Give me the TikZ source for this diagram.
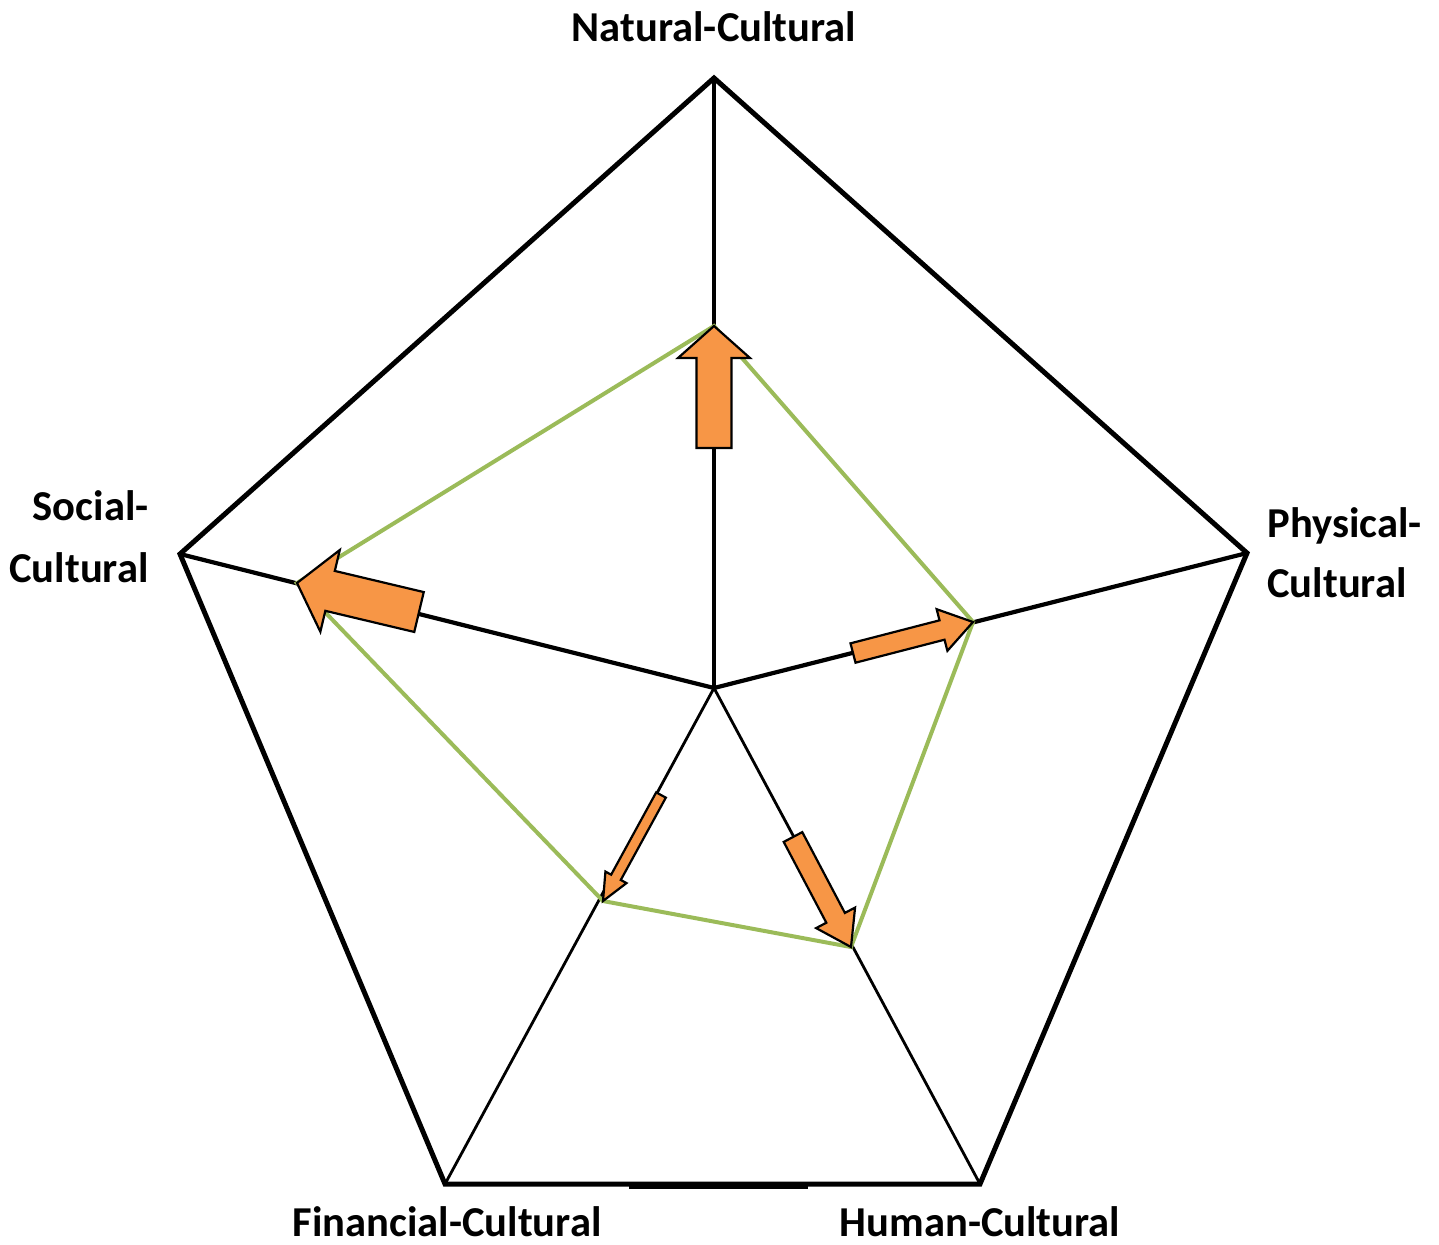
\documentclass[tikz,border=0pt]{standalone}
\usepackage{fontspec}
\setmainfont{Carlito}
\usetikzlibrary{calc}
\definecolor{capfill}{HTML}{F79646}
\definecolor{capline}{HTML}{9BBB59}
\tikzset{
  frame/.style={draw=black, line width=2.5pt, line join=miter},
  spoke/.style={draw=black, line width=2.1pt},
  thinspoke/.style={draw=black, line width=1.4pt},
  profile/.style={draw=capline, line width=2pt, line join=miter},
  fatarrowstyle/.style={fill=capfill, draw=black, line width=1.1pt, line join=miter},
  axislabel/.style={font=\bfseries\fontsize{21.3}{25}\selectfont, inner sep=0pt}
}
% block arrow from #1 to tip #2: shaft half width #3, head half width #4, head length #5
\newcommand\fatarrow[5]{%
  \coordinate (hb) at ($(#2)!#5!(#1)$);
  \filldraw[fatarrowstyle] ($(#1)!#3!90:(#2)$) -- ($(hb)!#3!90:(#2)$) -- ($(hb)!#4!90:(#2)$)
    -- (#2) -- ($(hb)!#4!-90:(#2)$) -- ($(hb)!#3!-90:(#2)$) -- ($(#1)!#3!-90:(#2)$) -- cycle;}
\begin{document}
\begin{tikzpicture}[x=0.5pt,y=-0.5pt]
\useasboundingbox (0,0) rectangle (1439,1244);
% centre and outer pentagon
\coordinate (O) at (714,688);
\coordinate (T) at (714,78);
\coordinate (R) at (1247,553);
\coordinate (BR) at (980,1184);
\coordinate (BL) at (445,1184);
\coordinate (L) at (180,554);
% profile points
\coordinate (pT) at (714,326);
\coordinate (pR) at (973,622);
\coordinate (pBR) at (851,947);
\coordinate (pBL) at (603,901);
\coordinate (pL) at (297,583);
% spokes
\path[spoke] (O) -- (T);
\path[spoke] (O) -- (R);
\path[spoke] (O) -- (L);
\path[thinspoke] (O) -- (BR);
\path[thinspoke] (O) -- (BL);
% outer frame
\path[frame] (T) -- (R) -- (BR) -- (BL) -- (L) -- cycle;
\fill[black] (629,1182) rectangle (808,1189);
% profile polygon
\path[profile] (pT) -- (pR) -- (pBR) -- (pBL) -- (pL) -- cycle;
% arrow tails
\coordinate (aT) at (714,448);
\coordinate (aL) at (419,612);
\coordinate (aR) at (853,653);
\coordinate (aBR) at (793,837);
\coordinate (aBL) at (661,795);
\fatarrow{aT}{pT}{8.75pt}{18pt}{16pt}
\fatarrow{aL}{pL}{10.25pt}{21pt}{17pt}
\fatarrow{aR}{pR}{5pt}{10.75pt}{16pt}
\fatarrow{aBR}{pBR}{5.25pt}{11pt}{16.5pt}
\fatarrow{aBL}{pBL}{2.75pt}{6pt}{13.5pt}
% axis labels
\node[axislabel, anchor=base] (lT) at (714,41) {Natural-Cultural};
\node[axislabel, anchor=base east] (lL1) at (149,520) {Social-};
\node[axislabel, anchor=base east] (lL2) at (149,582) {Cultural};
\node[axislabel, anchor=base west] (lR1) at (1267,537) {Physical-};
\node[axislabel, anchor=base west] (lR2) at (1267,597) {Cultural};
\node[axislabel, anchor=base] (lBL) at (447,1236) {Financial-Cultural};
\node[axislabel, anchor=base] (lBR) at (980,1236) {Human-Cultural};
\end{tikzpicture}
\end{document}
